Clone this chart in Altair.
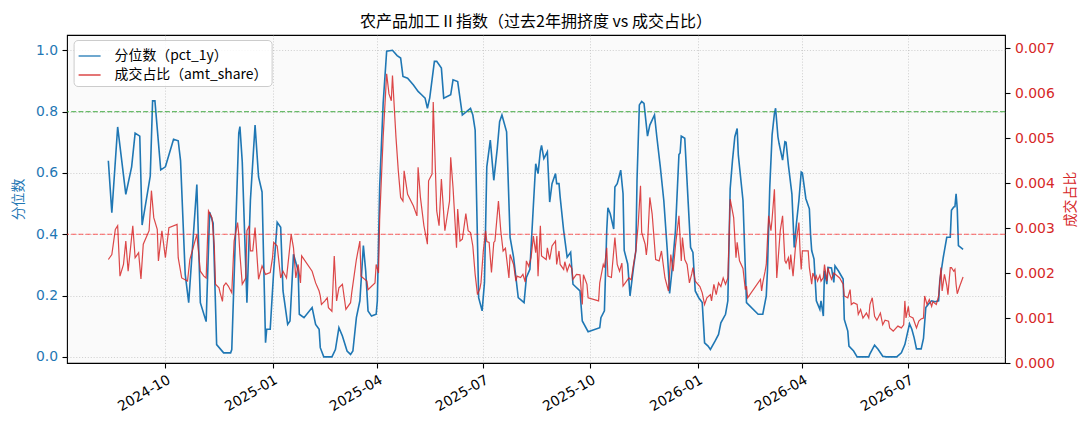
import altair as alt
import pandas as pd

BLUE = "#1f77b4"
RED = "#d62728"

title_text = "农产品加工Ⅱ指数（过去2年拥挤度 vs 成交占比）"
pct_name = "分位数（pct_1y）"
amt_name = "成交占比（amt_share）"

# days counted from 2024-10-01
start = pd.Timestamp("2024-10-01")

pct_days = [
    -49, -46, -41, -34, -29, -26, -22, -20, -13, -11, -9, -4, 0, 7, 11, 13, 17, 20, 27, 30,
    35, 38, 41, 44, 50, 56, 57, 63, 64, 66, 70, 73, 77, 80, 83, 86, 87, 90, 93, 96,
    99, 101, 105, 107, 110, 114, 115, 119, 126, 129, 132, 133, 136, 143, 146, 149, 152, 156, 159, 161,
    164, 167, 170, 172, 174, 177, 181, 182, 184, 187, 190, 195, 199, 202, 204, 208, 213, 217, 220, 223,
    225, 227, 231, 233, 237, 239, 245, 247, 251, 255, 262, 264, 266, 269, 272, 274, 276, 279, 282, 285,
    287, 289, 293, 296, 299, 303, 308, 310, 313, 316, 318, 320, 322, 323, 325, 328, 330, 332, 335, 336,
    338, 339, 342, 345, 348, 350, 356, 358, 363, 373, 374, 377, 379, 380, 382, 385, 386, 388, 391, 393,
    394, 397, 399, 402, 404, 405, 407, 409, 411, 414, 416, 420, 422, 425, 428, 431, 433, 435, 438, 441,
    442, 443, 446, 449, 451, 453, 455, 458, 461, 463, 466, 468, 472, 475, 477, 481, 483, 485, 487, 489,
    491, 492, 496, 499, 509, 513, 516, 517, 519, 521, 523, 524, 526, 527, 530, 532, 533, 535, 538, 540,
    542, 544, 546, 547, 550, 553, 554, 555, 557, 559, 562, 563, 565, 566, 568, 569, 572, 574, 575, 578,
    582, 583, 586, 587, 591, 594, 604, 605, 609, 612, 616, 619, 628, 632, 635, 639, 641, 643, 645, 649,
    651, 653, 655, 658, 661, 664, 665, 668, 671, 674, 675, 677, 678, 679, 680, 681, 685,
]
pct_values = [
    0.64, 0.47, 0.75, 0.53, 0.62, 0.73, 0.72, 0.43, 0.59, 0.835, 0.835, 0.61, 0.62, 0.71, 0.705, 0.64, 0.27, 0.177, 0.562, 0.177,
    0.115, 0.472, 0.436, 0.04, 0.013, 0.013, 0.024, 0.73, 0.751, 0.636, 0.177, 0.51, 0.756, 0.587, 0.538, 0.046, 0.09, 0.09, 0.281, 0.439,
    0.423, 0.215, 0.106, 0.117, 0.335, 0.281, 0.139, 0.128, 0.161, 0.106, 0.09, 0.03, 0.0, 0.0, 0.024, 0.095, 0.068, 0.019, 0.008, 0.019,
    0.128, 0.183, 0.363, 0.281, 0.15, 0.133, 0.139, 0.183, 0.554, 0.827, 0.997, 1.0, 0.983, 0.975, 0.915, 0.909, 0.887, 0.866, 0.855, 0.844,
    0.811, 0.845, 0.964, 0.964, 0.942, 0.844, 0.855, 0.904, 0.898, 0.789, 0.811, 0.789, 0.74, 0.193, 0.15, 0.243, 0.62, 0.707, 0.576, 0.68,
    0.767, 0.789, 0.734, 0.39, 0.325, 0.193, 0.177, 0.259, 0.286, 0.494, 0.63, 0.598, 0.672, 0.69, 0.647, 0.669, 0.505, 0.565, 0.598, 0.565,
    0.565, 0.521, 0.412, 0.325, 0.341, 0.237, 0.215, 0.117, 0.082, 0.095, 0.128, 0.15, 0.412, 0.486, 0.467, 0.417, 0.554, 0.565, 0.609, 0.532,
    0.347, 0.303, 0.199, 0.292, 0.347, 0.576, 0.822, 0.833, 0.827, 0.72, 0.756, 0.789, 0.718, 0.62, 0.51, 0.347, 0.207, 0.281, 0.412, 0.66,
    0.665, 0.72, 0.713, 0.499, 0.357, 0.341, 0.215, 0.193, 0.177, 0.046, 0.035, 0.024, 0.051, 0.073, 0.111, 0.139, 0.183, 0.549, 0.642, 0.718,
    0.745, 0.658, 0.51, 0.177, 0.139, 0.139, 0.199, 0.281, 0.554, 0.724, 0.794, 0.811, 0.718, 0.696, 0.642, 0.702, 0.70, 0.625, 0.532, 0.357,
    0.439, 0.51, 0.603, 0.60, 0.516, 0.483, 0.401, 0.347, 0.319, 0.183, 0.155, 0.183, 0.133, 0.281, 0.237, 0.292, 0.29, 0.243, 0.297, 0.28,
    0.254, 0.122, 0.084, 0.035, 0.019, 0.0, 0.0, 0.01, 0.038, 0.025, 0.002, 0.0, 0.0, 0.013, 0.04, 0.108, 0.09, 0.062, 0.026, 0.026,
    0.06, 0.161, 0.171, 0.183, 0.18, 0.183, 0.248, 0.325, 0.39, 0.39, 0.478, 0.489, 0.49, 0.532, 0.483, 0.363, 0.351,
]

amt_days = [
    -49, -46, -43, -41, -39, -36, -34, -32, -28, -26, -23, -21, -19, -14, -12, -10, -7, -6, -3, 0,
    3, 10, 11, 14, 19, 21, 27, 30, 33, 35, 37, 40, 42, 43, 46, 47, 49, 50, 52, 54,
    57, 59, 62, 63, 64, 66, 69, 70, 72, 73, 75, 77, 80, 83, 86, 90, 92, 93, 96, 99,
    101, 104, 108, 110, 112, 114, 116, 117, 126, 129, 132, 133, 134, 137, 139, 140, 143, 145, 147, 149,
    152, 155, 159, 160, 164, 167, 168, 173, 174, 180, 181, 183, 184, 187, 190, 192, 194, 195, 198, 200,
    202, 204, 205, 208, 213, 216, 217, 219, 222, 225, 226, 229, 230, 233, 235, 237, 240, 244, 245, 247,
    250, 251, 253, 255, 258, 260, 262, 264, 266, 268, 270, 271, 273, 275, 276, 278, 280, 282, 283, 286,
    288, 290, 292, 295, 296, 299, 301, 302, 305, 307, 309, 310, 312, 314, 316, 318, 319, 320, 322, 323,
    325, 327, 328, 330, 332, 335, 336, 338, 339, 342, 343, 345, 347, 349, 350, 353, 356, 358, 359, 362,
    363, 372, 373, 376, 377, 379, 380, 383, 386, 388, 390, 392, 393, 396, 398, 400, 402, 404, 406, 408,
    409, 412, 413, 414, 416, 418, 421, 424, 426, 429, 432, 434, 436, 438, 441, 443, 444, 446, 448, 450,
    452, 453, 455, 459, 461, 463, 465, 468, 469, 471, 473, 475, 477, 479, 481, 483, 485, 488, 490, 491,
    493, 496, 498, 499, 500, 511, 512, 513, 515, 516, 518, 520, 521, 523, 525, 528, 530, 532, 533, 535,
    536, 537, 539, 541, 544, 545, 546, 547, 552, 553, 555, 556, 558, 559, 560, 562, 563, 565, 566, 568,
    569, 570, 572, 574, 579, 582, 583, 586, 588, 589, 591, 594, 595, 597, 599, 602, 604, 605, 607, 609,
    611, 614, 616, 618, 621, 622, 625, 629, 632, 634, 635, 636, 638, 639, 642, 645, 647, 649, 651, 652,
    654, 656, 658, 659, 662, 664, 666, 667, 669, 671, 672, 674, 675, 677, 678, 679, 680, 682, 685,
]
amt_values = [
    0.00230, 0.00241, 0.00297, 0.00305, 0.00193, 0.00219, 0.00271, 0.00204, 0.00305, 0.00234, 0.00245, 0.00187, 0.00264, 0.00294, 0.00383, 0.00323, 0.00297, 0.00227, 0.00294, 0.00234,
    0.00301, 0.00308, 0.00234, 0.00189, 0.00182, 0.00230, 0.00286, 0.00204, 0.00193, 0.00189, 0.00338, 0.00323, 0.00260, 0.00175, 0.00167, 0.00156, 0.00137, 0.00171, 0.00178, 0.00171,
    0.00156, 0.00271, 0.00312, 0.00286, 0.00241, 0.00175, 0.00189, 0.00294, 0.00305, 0.00249, 0.00249, 0.00301, 0.00186, 0.00216, 0.00197, 0.00201, 0.00234, 0.00268, 0.00260, 0.00189,
    0.00204, 0.00189, 0.00286, 0.00256, 0.00189, 0.00219, 0.00178, 0.00238, 0.00204, 0.00178, 0.00160, 0.00149, 0.00130, 0.00138, 0.00145, 0.00123, 0.00115, 0.00238, 0.00138, 0.00167,
    0.00175, 0.00119, 0.00134, 0.00156, 0.00230, 0.00271, 0.00193, 0.00182, 0.00163, 0.00178, 0.00219, 0.00200, 0.00319, 0.00502, 0.00643, 0.00598, 0.00583, 0.00639, 0.00502, 0.00427,
    0.00368, 0.00360, 0.00427, 0.00375, 0.00349, 0.00327, 0.00435, 0.00368, 0.00305, 0.00264, 0.00405, 0.00420, 0.00580, 0.00338, 0.00305, 0.00409, 0.00294, 0.00360, 0.00457, 0.00390,
    0.00256, 0.00342, 0.00271, 0.00275, 0.00332, 0.00294, 0.00290, 0.00260, 0.00197, 0.00152, 0.00165, 0.00178, 0.00249, 0.00294, 0.00270, 0.00268, 0.00201, 0.00268, 0.00271, 0.00360,
    0.00294, 0.00249, 0.00255, 0.00189, 0.00241, 0.00219, 0.00182, 0.00193, 0.00190, 0.00197, 0.00180, 0.00227, 0.00215, 0.00234, 0.00282, 0.00245, 0.00282, 0.00193, 0.00305, 0.00238,
    0.00234, 0.00230, 0.00256, 0.00230, 0.00260, 0.00271, 0.00219, 0.00249, 0.00219, 0.00208, 0.00225, 0.00204, 0.00219, 0.00210, 0.00186, 0.00197, 0.00196, 0.00130, 0.00196, 0.00175,
    0.00145, 0.00138, 0.00178, 0.00219, 0.00212, 0.00256, 0.00193, 0.00190, 0.00279, 0.00219, 0.00204, 0.00222, 0.00171, 0.00182, 0.00189, 0.00185, 0.00219, 0.00249, 0.00308, 0.00394,
    0.00290, 0.00264, 0.00240, 0.00264, 0.00368, 0.00331, 0.00230, 0.00227, 0.00249, 0.00189, 0.00160, 0.00241, 0.00204, 0.00260, 0.00327, 0.00227, 0.00279, 0.00230, 0.00219, 0.00178,
    0.00198, 0.00212, 0.00182, 0.00170, 0.00156, 0.00130, 0.00145, 0.00152, 0.00138, 0.00175, 0.00152, 0.00178, 0.00170, 0.00189, 0.00175, 0.00189, 0.00364, 0.00323, 0.00234, 0.00268,
    0.00227, 0.00210, 0.00163, 0.00171, 0.00145, 0.00186, 0.00160, 0.00178, 0.00204, 0.00219, 0.00327, 0.00294, 0.00320, 0.00386, 0.00189, 0.00294, 0.00327, 0.00227, 0.00222, 0.00234,
    0.00208, 0.00241, 0.00193, 0.00256, 0.00312, 0.00250, 0.00208, 0.00249, 0.00249, 0.00212, 0.00175, 0.00200, 0.00186, 0.00193, 0.00182, 0.00195, 0.00182, 0.00190, 0.00219, 0.00182,
    0.00212, 0.00201, 0.00186, 0.00200, 0.00189, 0.00175, 0.00149, 0.00145, 0.00163, 0.00130, 0.00134, 0.00130, 0.00108, 0.00119, 0.00100, 0.00111, 0.00100, 0.00130, 0.00145, 0.00104,
    0.00095, 0.00111, 0.00085, 0.00095, 0.00093, 0.00078, 0.00071, 0.00082, 0.00078, 0.00085, 0.00138, 0.00100, 0.00126, 0.00104, 0.00100, 0.00078, 0.00093, 0.00098, 0.00100, 0.00149,
    0.00130, 0.00141, 0.00126, 0.00136, 0.00130, 0.00149, 0.00212, 0.00160, 0.00197, 0.00172, 0.00152, 0.00212, 0.00212, 0.00204, 0.00208, 0.00175, 0.00154, 0.00170, 0.00191,
]

pct_ticks = [0.0, 0.2, 0.4, 0.6, 0.8, 1.0]
amt_ticks = [0.0, 0.001, 0.002, 0.003, 0.004, 0.005, 0.006, 0.007]
quarter_ticks = [(2024, 10), (2025, 1), (2025, 4), (2025, 7), (2025, 10), (2026, 1), (2026, 4), (2026, 7)]
hi_line, lo_line = 0.8, 0.4

pct_df = pd.DataFrame({
    "date": start + pd.to_timedelta(pct_days, unit="D"),
    "value": pct_values,
    "series": pct_name,
})
amt_df = pd.DataFrame({
    "date": start + pd.to_timedelta(amt_days, unit="D"),
    "value": amt_values,
    "series": amt_name,
})

x = alt.X(
    "date:T",
    title=None,
    scale=alt.Scale(domain=[alt.DateTime(year=2024, month=7, date=8, hours=12),
                            alt.DateTime(year=2026, month=9, date=22)]),
    axis=alt.Axis(
        values=[alt.DateTime(year=y, month=m, date=1) for y, m in quarter_ticks],
        format="%Y-%m",
        labelAngle=330,
        labelAlign="right",
        labelBaseline="top",
        grid=True,
    ),
)

color = alt.Color(
    "series:N",
    scale=alt.Scale(domain=[pct_name, amt_name], range=[BLUE, RED]),
    legend=alt.Legend(
        title=None,
        orient="none",
        legendX=6.6,
        legendY=5,
        symbolType="stroke",
        symbolSize=484,
        symbolStrokeWidth=1.5,
        labelFont="Noto Sans CJK SC",
        labelFontSize=13.9,
        labelColor="black",
        labelOffset=13,
        fillColor="rgba(255,255,255,0.85)",
        strokeColor="#cccccc",
        cornerRadius=4,
        padding=4,
        rowPadding=-1,
    ),
)

y_left = alt.Y(
    "value:Q",
    scale=alt.Scale(domain=[-0.02, 1.05], nice=False, zero=False),
    axis=alt.Axis(
        title="分位数", orient="left", values=pct_ticks, format=".1f",
        labelColor=BLUE, titleColor=BLUE, grid=True,
    ),
)

y_right = alt.Y(
    "value:Q",
    scale=alt.Scale(domain=[0, 0.00729], nice=False, zero=False),
    axis=alt.Axis(
        title="成交占比", orient="right", values=amt_ticks, format=".3f",
        labelColor=RED, titleColor=RED, grid=False,
        titleAngle=270, titleBaseline="top", titlePadding=9,
    ),
)

blue_line = alt.Chart(pct_df).mark_line(strokeWidth=1.6).encode(x=x, y=y_left, color=color)
green_rule = (
    alt.Chart(pd.DataFrame({"value": [hi_line]}))
    .mark_rule(color="#2ca02c", strokeDash=[5, 2.2], strokeWidth=1.1, opacity=0.7)
    .encode(y=y_left)
)
red_rule = (
    alt.Chart(pd.DataFrame({"value": [lo_line]}))
    .mark_rule(color="#ff1f1f", strokeDash=[5, 2.2], strokeWidth=1.1, opacity=0.7)
    .encode(y=y_left)
)
red_line = (
    alt.Chart(amt_df)
    .mark_line(strokeWidth=1.2, opacity=0.85)
    .encode(x=x, y=y_right, color=color)
)

left = alt.layer(blue_line, green_rule, red_rule)

chart = (
    alt.layer(left, red_line)
    .resolve_scale(y="independent")
    .properties(
        width=938,
        height=328,
        title=alt.Title(title_text, font="Noto Sans CJK SC", fontSize=16,
                        fontWeight="normal", color="black", anchor="middle", offset=5),
        autosize=alt.AutoSizeParams(type="none"),
        padding={"left": 59, "top": 27, "right": 76, "bottom": 58},
    )
    .configure_view(stroke="black", strokeWidth=1.1, fill="#fafafa")
    .configure_axis(
        domain=False,
        tickColor="black",
        tickSize=5,
        tickWidth=1.1,
        labelFont="DejaVu Sans",
        labelFontSize=13.9,
        labelColor="black",
        labelPadding=4.5,
        titleFont="Noto Sans CJK SC",
        titleFontSize=13.9,
        titleFontWeight="normal",
        titlePadding=10,
        gridColor="#b0b0b0",
        gridOpacity=0.55,
        gridDash=[1.1, 1.8],
    )
)

chart.save("out.html", embed_options={"renderer": "svg", "actions": False})
